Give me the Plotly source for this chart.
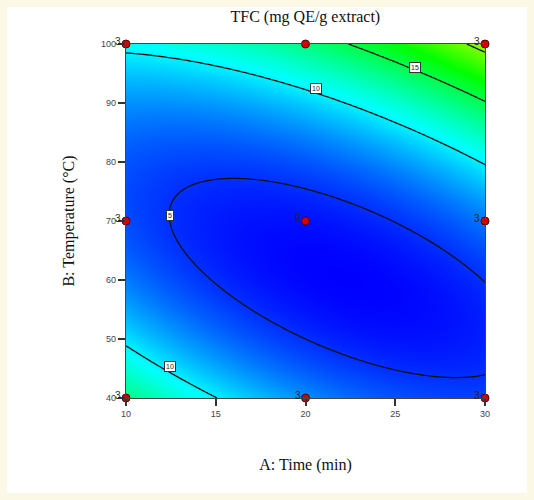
import numpy as np
import plotly.graph_objects as go

# Quadratic response-surface model (coded units: a=(Time-20)/10, b=(Temp-70)/30)
coef_names = ["b0", "bA", "bB", "bAB", "bAA", "bBB"]
coef_values = [4.232, 0.573, 3.072, 4.624, 2.1, 6.336]

# Design points
design_time = [10, 20, 30, 10, 20, 30, 10, 20, 30]
design_temp = [100, 100, 100, 70, 70, 70, 40, 40, 40]
design_labels = ["3", "", "3", "3", "9", "3", "3", "3", "3"]

# Contour levels and label positions
contour_levels = [5, 10, 15, 20]
label_text = ["5", "10", "15", "10"]
label_time = [12.45, 20.6, 26.1, 12.45]
label_temp = [71, 92.5, 96.1, 45.4]

x_ticks = [10, 15, 20, 25, 30]
y_ticks = [40, 50, 60, 70, 80, 90, 100]

c = dict(zip(coef_names, coef_values))
xs = np.linspace(10, 30, 201)
ys = np.linspace(40, 100, 241)
X, Y = np.meshgrid(xs, ys)
a = (X - 20) / 10
b = (Y - 70) / 30
Z = (c["b0"] + c["bA"] * a + c["bB"] * b + c["bAB"] * a * b
     + c["bAA"] * a ** 2 + c["bBB"] * b ** 2)

zmin, zmax = 3.8, 30.0
colorscale = [[0.0, "rgb(0,0,255)"], [0.25, "rgb(0,255,255)"],
              [0.5, "rgb(0,255,0)"], [0.75, "rgb(255,255,0)"], [1.0, "rgb(255,0,0)"]]

fig = go.Figure()
fig.add_trace(go.Contour(
    x=xs, y=ys, z=Z, zmin=zmin, zmax=zmax, colorscale=colorscale,
    showscale=False,
    contours=dict(coloring="heatmap", start=contour_levels[0], end=contour_levels[-1],
                  size=5, showlabels=False),
    line=dict(color="#111111", width=1.3),
    hoverinfo="skip",
))
fig.add_trace(go.Scatter(
    x=design_time, y=design_temp, mode="markers",
    marker=dict(color="#d00000", size=8, line=dict(color="#550000", width=1)),
    cliponaxis=False, showlegend=False, hoverinfo="skip",
))

for t, xx, yy in zip(design_labels, design_time, design_temp):
    if t:
        fig.add_annotation(x=xx, y=yy, text=t, showarrow=False, xanchor="right", yanchor="middle",
                           xshift=-3, yshift=3,
                           font=dict(family="Arial, Liberation Sans", size=10, color="#222"))

for t, xx, yy in zip(label_text, label_time, label_temp):
    fig.add_annotation(x=xx, y=yy, text=t, showarrow=False,
                       font=dict(family="Arial, Liberation Sans", size=7, color="#222"),
                       bgcolor="white", bordercolor="#333", borderwidth=1, borderpad=1)

axis_common = dict(showline=True, linecolor="#444", linewidth=1.2, mirror=True,
                   ticks="outside", ticklen=7, tickcolor="#333", tickwidth=1.5,
                   showgrid=False, zeroline=False,
                   tickfont=dict(family="Arial, Liberation Sans", size=9, color="#444"))

fig.update_layout(
    width=534, height=500,
    margin=dict(l=126, r=49, t=44, b=102),
    paper_bgcolor="#fcf8e6", plot_bgcolor="white",
    title=dict(text="TFC (mg QE/g extract)", x=0.5718, xanchor="center", y=0.968, yanchor="middle",
               font=dict(family="Liberation Serif, Times New Roman", size=16, color="#111")),
    xaxis=dict(range=[10, 30], tickvals=x_ticks, **axis_common,
               title=dict(text="A: Time (min)", standoff=40,
                          font=dict(family="Liberation Serif, Times New Roman", size=16, color="#111"))),
    yaxis=dict(range=[40, 100], tickvals=y_ticks, ticksuffix="\u00a0\u00a0", **axis_common,
               title=dict(text="B: Temperature (°C)", standoff=22,
                          font=dict(family="Liberation Serif, Times New Roman", size=16, color="#111"))),
    shapes=[dict(type="rect", xref="paper", yref="paper", x0=-0.3315, x1=1.117, y0=-0.268, y1=1.1045,
                 fillcolor="white", line=dict(width=0), layer="below")],
)

fig.write_html("out.html")
